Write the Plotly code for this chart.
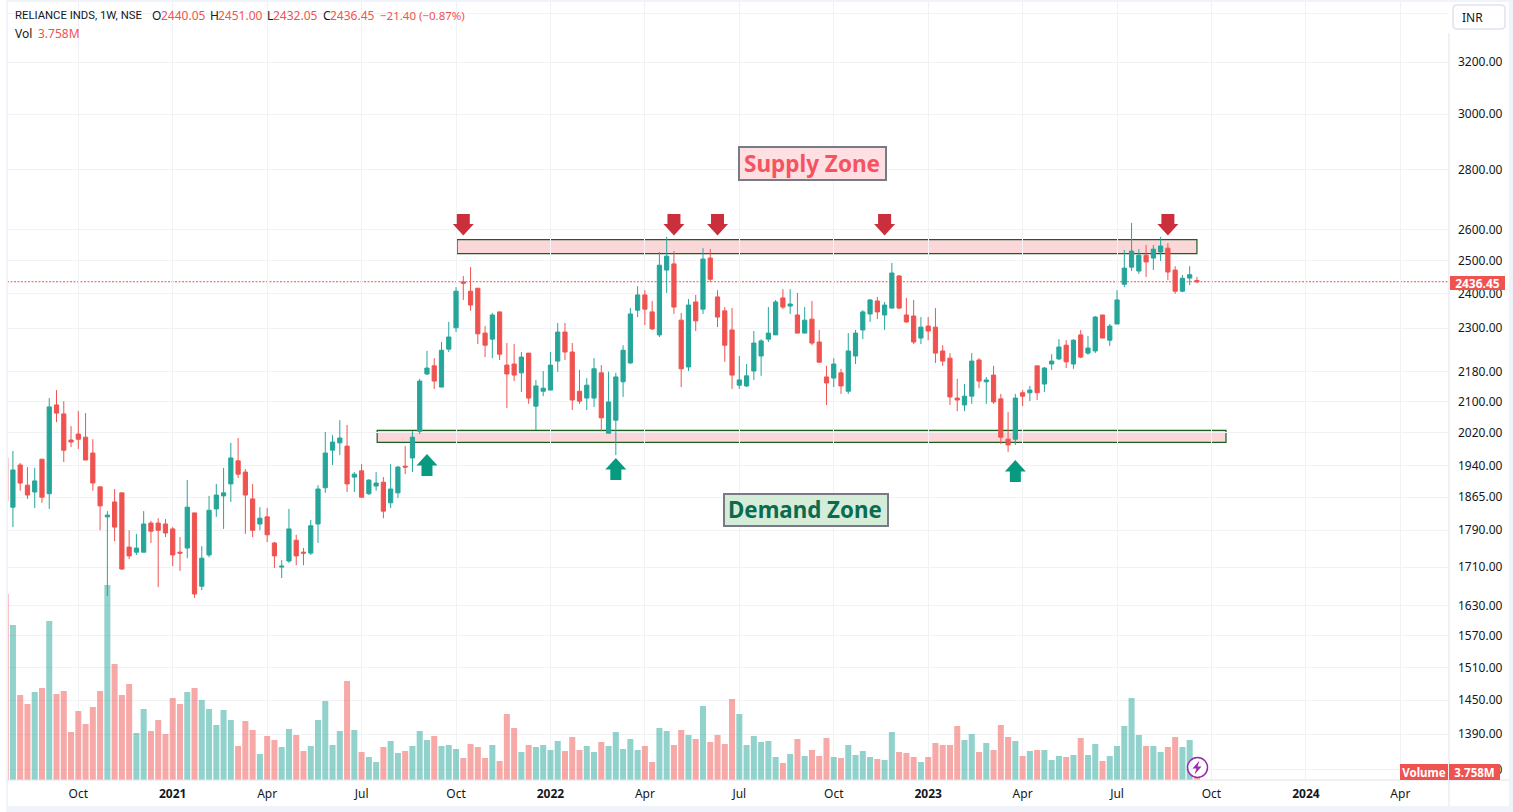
import math
import pandas as pd
import plotly.graph_objects as go

FIRST_WEEK = "2020-07-27"
opens = [1958,1842,1941,1893,1877,1955,1873,2091,2068,2002,
 2017,2009,1970,1889,1820,1854,1875,1753,1742,1742,
 1806,1806,1804,1793,1742,1751,1829,1670,1736,1838,
 1868,1896,1951,1924,1861,1804,1820,1762,1710,1723,
 1768,1742,1740,1804,1887,1977,1995,1987,1912,1927,
 1873,1891,1900,1852,1875,1938,1958,2024,2173,2195,
 2138,2241,2301,2436,2408,2417,2286,2269,2347,2197,
 2200,2176,2230,2088,2127,2130,2208,2289,2233,2127,
 2109,2109,2176,2019,2052,2152,2203,2352,2397,2347,
 2281,2472,2491,2323,2192,2376,2355,2509,2391,2350,
 2295,2143,2141,2181,2222,2269,2281,2388,2364,2338,
 2286,2326,2261,2165,2162,2176,2127,2222,2295,2341,
 2379,2338,2358,2454,2338,2335,2272,2306,2303,2236,
 2216,2109,2091,2114,2211,2152,2170,2107,2004,2004,
 2123,2123,2195,2146,2200,2214,2252,2200,2281,2230,
 2236,2338,2266,2312,2429,2481,2469,2518,2509,2528,
 2540,2472,2408,2447.5,2440.05]
highs = [1958,1975,1946,1936,1934,1955,2109,2130,2101,2037,
 2075,2070,2004,1889,1833,1884,1875,1790,1782,1833,
 1811,1817,1815,1797,1775,1905,1829,1755,1868,1896,
 1934,1995,2007,1931,1896,1842,1840,1764,1725,1838,
 1780,1751,1813,1893,2022,2014,2052,2040,1924,1943,
 1907,1924,1912,1943,1938,1987,2024,2160,2236,2216,
 2261,2318,2420,2454,2481,2417,2306,2344,2347,2258,
 2255,2233,2230,2157,2181,2233,2315,2315,2258,2184,
 2162,2216,2197,2179,2176,2252,2358,2423,2411,2379,
 2528,2576,2531,2344,2385,2397,2540,2537,2411,2361,
 2358,2222,2200,2292,2269,2361,2382,2414,2414,2403,
 2361,2379,2295,2195,2216,2187,2286,2295,2352,2385,
 2391,2376,2494,2457,2388,2382,2332,2332,2358,2252,
 2230,2160,2146,2230,2216,2165,2195,2120,2073,2120,
 2130,2141,2195,2192,2227,2269,2266,2269,2295,2278,
 2335,2338,2312,2411,2534,2621,2537,2550,2550,2576,
 2556,2484,2457,2484,2451]
lows = [1856,1797,1880,1861,1840,1852,1838,2047,1948,1985,
 1980,1953,1880,1790,1650,1766,1704,1727,1736,1742,
 1762,1668,1775,1712,1702,1729,1646,1662,1731,1820,
 1793,1854,1910,1782,1775,1790,1764,1708,1687,1719,
 1714,1714,1736,1762,1875,1941,1965,1877,1877,1863,
 1870,1880,1817,1840,1863,1919,1924,2017,2170,2133,
 2138,2233,2289,2382,2350,2255,2219,2216,2211,2083,
 2154,2125,2094,2027,2114,2130,2179,2211,2078,2094,
 2078,2086,2024,2019,1965,2112,2200,2332,2309,2295,
 2275,2403,2341,2138,2181,2292,2341,2435,2303,2206,
 2133,2133,2138,2157,2168,2261,2281,2355,2341,2286,
 2286,2252,2203,2091,2138,2120,2120,2200,2269,2318,
 2326,2295,2358,2355,2315,2255,2255,2266,2203,2195,
 2091,2075,2075,2094,2135,2094,2094,1992,1973,1990,
 2088,2101,2104,2125,2184,2211,2189,2187,2216,2225,
 2230,2272,2250,2312,2420,2469,2460,2451,2472,2500,
 2441,2400,2405,2426,2432.05]
closes = [1856,1929,1898,1870,1903,1865,2086,2070,1977,1997,
 2004,1953,1898,1845,1824,1797,1706,1734,1751,1804,
 1788,1790,1784,1736,1740,1842,1654,1729,1835,1870,
 1875,1958,1919,1870,1790,1817,1780,1734,1712,1793,
 1734,1740,1800,1884,1970,1997,2007,1896,1919,1865,
 1905,1898,1833,1884,1936,1936,2009,2154,2189,2154,
 2238,2275,2408,2432,2367,2284,2252,2338,2227,2173,
 2170,2219,2109,2141,2135,2197,2289,2233,2104,2101,
 2143,2187,2058,2099,2165,2238,2341,2397,2355,2298,
 2487,2515,2361,2187,2367,2321,2506,2444,2332,2252,
 2170,2157,2168,2258,2264,2286,2376,2361,2370,2286,
 2323,2258,2205,2149,2200,2141,2236,2286,2347,2382,
 2347,2367,2463,2358,2318,2261,2303,2292,2230,2208,
 2112,2104,2114,2208,2154,2157,2099,2009,1990,2109,
 2114,2130,2123,2189,2208,2247,2206,2266,2219,2244,
 2332,2272,2306,2382,2478,2531,2518,2497,2537,2547,
 2466,2408,2447,2457.85,2436.45]
volumes_m = [186,155,85,76,88,92,159,86,89,48,
 69,56,73,89,195,116,85,96,47,71,
 49,60,46,82,76,88,92,80,71,55,
 70,60,34,59,50,26,44,40,33,51,
 45,29,34,60,79,35,49,99,50,28,
 23,18,33,39,27,29,34,49,40,44,
 34,35,31,22,36,33,22,35,19,66,
 52,28,35,33,35,30,39,29,43,30,
 34,28,38,34,48,31,41,30,34,18,
 52,49,35,50,45,41,74,38,45,36,
 81,66,35,44,38,39,23,17,26,41,
 24,30,24,42,23,22,35,25,29,23,
 21,20,48,28,27,23,18,23,37,35,
 35,54,40,46,28,37,30,55,43,39,
 24,29,30,30,20,24,23,25,42,25,
 36,19,24,34,54,82,45,34,34,28,
 33,43,33,40,3.758]

price_ticks = [3400,3200,3000,2800,2600,2500,2400,2300,2180,2100,2020,1940,1865,1790,1710,1630,1570,1510,1450,1390,1330]
time_ticks = ["2020-10-05","2021-01-04","2021-04-05","2021-07-05","2021-10-04","2022-01-03","2022-04-04","2022-07-04","2022-10-03","2023-01-02","2023-04-03","2023-07-03","2023-10-02","2024-01-01","2024-04-01"]
time_labels = ["Oct","<b>2021</b>","Apr","Jul","Oct","<b>2022</b>","Apr","Jul","Oct","<b>2023</b>","Apr","Jul","Oct","<b>2024</b>","Apr"]

LAST_PRICE = 2436.45
SUPPLY = (2567, 2523)
DEMAND = (2026, 1996)
DOWN_ARROWS = [63, 92, 98, 121, 160]
UP_ARROWS = [(58, 1967.7), (84, 1958), (139, 1953)]

W, H = 1513, 812
L, R, T, B = 7, 1449, 2, 780
GREEN, RED = "#26a69a", "#ef5350"
GRID = "#f1f2f5"
FRAME = "#f0f3fa"
EDGE = "#e0e3eb"
FONT = "Noto Sans"

dates = pd.date_range(FIRST_WEEK, periods=len(closes), freq="7D")
vol_colors = ["rgba(38,166,154,0.5)" if c >= o else "rgba(239,83,80,0.5)" for o, c in zip(opens, closes)]
def fx(px): return (px - L) / (R - L)
def fy(py): return (B - py) / (B - T)

anchor = pd.Timestamp("2020-10-05")
pxday = 1.0377
xrange = [anchor - pd.Timedelta(days=(78.3 - L) / pxday), anchor + pd.Timedelta(days=(R - 78.3) / pxday)]

fig = go.Figure()
fig.add_trace(go.Bar(x=dates, y=volumes_m, marker=dict(color=vol_colors, line_width=0), yaxis="y", hoverinfo="skip"))
fig.add_trace(go.Candlestick(x=dates, open=opens, high=highs, low=lows, close=closes, yaxis="y2",
    whiskerwidth=0,
    increasing=dict(line=dict(color=GREEN, width=1), fillcolor=GREEN),
    decreasing=dict(line=dict(color=RED, width=1), fillcolor=RED)))

shapes = []
def rect(x0, x1, y0, y1, color):
    shapes.append(dict(type="rect", xref="paper", yref="paper", x0=fx(x0), x1=fx(x1), y0=fy(y0), y1=fy(y1),
                       fillcolor=color, line_width=0, layer="above"))
def line(x0, y0, x1, y1, color, width=1):
    shapes.append(dict(type="line", xref="paper", yref="paper", x0=fx(x0), x1=fx(x1), y0=fy(y0), y1=fy(y1),
                       line=dict(color=color, width=width), layer="above"))

day = pd.Timedelta(days=1)
for p0, p1, i0, i1 in [(SUPPLY[0], SUPPLY[1], dates[62] + day, dates[164]), (DEMAND[0], DEMAND[1], dates[51] + day, dates[-1] + pd.Timedelta(weeks=4))]:
    shapes.append(dict(type="rect", xref="x", yref="y2", x0=i0, x1=i1, y0=p0, y1=p1,
                       fillcolor="#fbd7da", line=dict(color="#1b5e20", width=1.2), layer="below"))
shapes.append(dict(type="line", xref="paper", yref="y2", x0=0, x1=1, y0=LAST_PRICE, y1=LAST_PRICE,
                   line=dict(color=RED, width=1, dash="2px,1.5px"), layer="below"))
for i in DOWN_ARROWS:
    shapes.append(dict(type="path", xref="x", yref="y2", xsizemode="pixel", ysizemode="pixel",
                       xanchor=dates[i], yanchor=2580,
                       path="M 0 0 L 10.5 11.5 L 6.5 11.5 L 6.5 21.5 L -6.5 21.5 L -6.5 11.5 L -10.5 11.5 Z",
                       fillcolor="#cc2f3c", line_width=0, layer="above"))
for i, p in UP_ARROWS:
    shapes.append(dict(type="path", xref="x", yref="y2", xsizemode="pixel", ysizemode="pixel",
                       xanchor=dates[i], yanchor=p,
                       path="M 0 0 L 10.5 -11.5 L 5.5 -11.5 L 5.5 -22 L -5.5 -22 L -5.5 -11.5 L -10.5 -11.5 Z",
                       fillcolor="#089981", line_width=0, layer="above"))

# frame and scale lines
rect(0, 6, 0, H, "#ffffff")
rect(6, 8, 0, H, FRAME)
rect(R + 60, W, 0, H, FRAME)
rect(6, W, H - 6, H, FRAME)
rect(6, W, 0, 2, FRAME)
line(R, 33, R, H - 6, EDGE)
line(L, B, R + 60, B, EDGE)

# INR box
x0, x1, y0, y1 = fx(1453), fx(1505), fy(5), fy(29)
shapes.append(dict(type="path", xref="paper", yref="paper", layer="above",
    path=f"M {fx(1457)} {y0} L {fx(1501)} {y0} Q {x1} {y0} {x1} {fy(9)} L {x1} {fy(25)} Q {x1} {y1} {fx(1501)} {y1} L {fx(1457)} {y1} Q {x0} {y1} {x0} {fy(25)} L {x0} {fy(9)} Q {x0} {y0} {fx(1457)} {y0} Z",
    fillcolor="#ffffff", line=dict(color=EDGE, width=1.5)))
# replay icon
shapes.append(dict(type="circle", xref="paper", yref="paper", x0=fx(1187.5), x1=fx(1207.5), y0=fy(757.5), y1=fy(777.5),
                   fillcolor="rgba(255,255,255,0.85)", line=dict(color="#9c27b0", width=1.5), layer="above"))
bolt = [(1199.5,760.5),(1192.5,768.5),(1196.5,768.5),(1194.5,774.5),(1201.5,766.5),(1197.5,766.5)]
shapes.append(dict(type="path", xref="paper", yref="paper", layer="above", fillcolor="#9c27b0", line_width=0,
                   path="M " + " L ".join(f"{fx(a)} {fy(b)}" for a, b in bolt) + " Z"))

ann = []
def text(px, py, s, color="#131722", size=12, xa="left", family=FONT):
    ann.append(dict(xref="paper", yref="paper", x=fx(px - 2), y=fy(py), text=s, showarrow=False, xanchor=xa, yanchor="middle",
                    font=dict(family=family, size=size, color=color)))
def box(x0, x1, y0, y1, s, bg, color, size, border=None, bw=0):
    ann.append(dict(xref="paper", yref="paper", x=fx((x0 + x1) / 2), y=fy((y0 + y1) / 2), text=s, showarrow=False,
                    xanchor="center", yanchor="middle", width=x1 - x0 - 2*bw, height=y1 - y0 - 2*bw, align="center", valign="middle",
                    bgcolor=bg, bordercolor=border, borderwidth=bw, borderpad=0,
                    font=dict(family=FONT, size=size, color=color)))
def label(x0, x1, y0, y1, s, bg, color, size, border, bw):
    box(x0, x1, y0, y1, " ", bg, color, size, border, bw)
    ann.append(dict(xref="paper", yref="paper", x=fx((x0 + x1) / 2 - 1), y=fy((y0 + y1) / 2), text=s, showarrow=False,
                    xanchor="center", yanchor="middle", font=dict(family=FONT, size=size, color=color)))

text(15, 16, "RELIANCE INDS, 1W, NSE", size=11.3, family="Roboto")
for px, s, c, sz in [(152,"O","#131722",12),(161,"2440.05",RED,12),(210,"H","#131722",12),(218,"2451.00",RED,12),
                 (267,"L","#131722",12),(273,"2432.05",RED,12),(323,"C","#131722",12),(330,"2436.45",RED,12),(380,"−21.40 (−0.87%)",RED,11.5)]:
    text(px, 16, s, c, sz)
text(15, 33, "Vol")
text(38, 33, "3.758M", RED)
text(1462, 18, "INR")
box(1450, 1505, 276, 290, "<b>2436.45</b>", RED, "#ffffff", 12)
box(1400, 1448, 764, 780, "<b>Volume</b>", RED, "#ffffff", 11.5)
box(1449, 1500, 764, 780, "<b>3.758M</b>", RED, "#ffffff", 11.5)
label(738, 887, 145.5, 180.5, "<b>Supply Zone</b>", "#fedfe2", "#f7525f", 22.5, "#787b86", 2)
label(723, 889, 493, 526.5, "<b>Demand Zone</b>", "#d5ecd9", "#0b6b4f", 22.3, "#787b86", 2)

lo, hi = 1313.1, 3447.3
fig.update_layout(
    width=W, height=H, autosize=False, showlegend=False,
    margin=dict(l=L, r=W - R, t=T, b=H - B, pad=0),
    paper_bgcolor="#ffffff", plot_bgcolor="#ffffff",
    bargap=0.17, boxgap=0.42, boxgroupgap=0,
    font=dict(family=FONT, size=12, color="#131722"),
    shapes=shapes, annotations=ann,
    xaxis=dict(type="date", range=xrange, rangeslider=dict(visible=False), tickmode="array",
               tickvals=time_ticks, ticktext=time_labels, showgrid=True, gridcolor=GRID, gridwidth=1,
               zeroline=False, showline=False, ticks="", tickfont=dict(family=FONT, size=12, color="#131722"),
               ticklabelstandoff=5),
    yaxis=dict(range=[0, B - T], visible=False, showgrid=False, zeroline=False, fixedrange=True),
    yaxis2=dict(type="log", range=[math.log10(lo), math.log10(hi)], overlaying="y", side="right", anchor="x",
                tickmode="array", tickvals=price_ticks,
                ticktext=["" if t == 3400 else f"{t:.2f}" for t in price_ticks],
                showgrid=True, gridcolor=GRID, gridwidth=1, zeroline=False, showline=False, ticks="",
                tickfont=dict(family=FONT, size=12, color="#131722"), ticklabelstandoff=8),
)
fig.write_html("out.html", config=dict(displayModeBar=False),
               post_script="document.body.style.margin='0';document.body.style.overflow='hidden';")
